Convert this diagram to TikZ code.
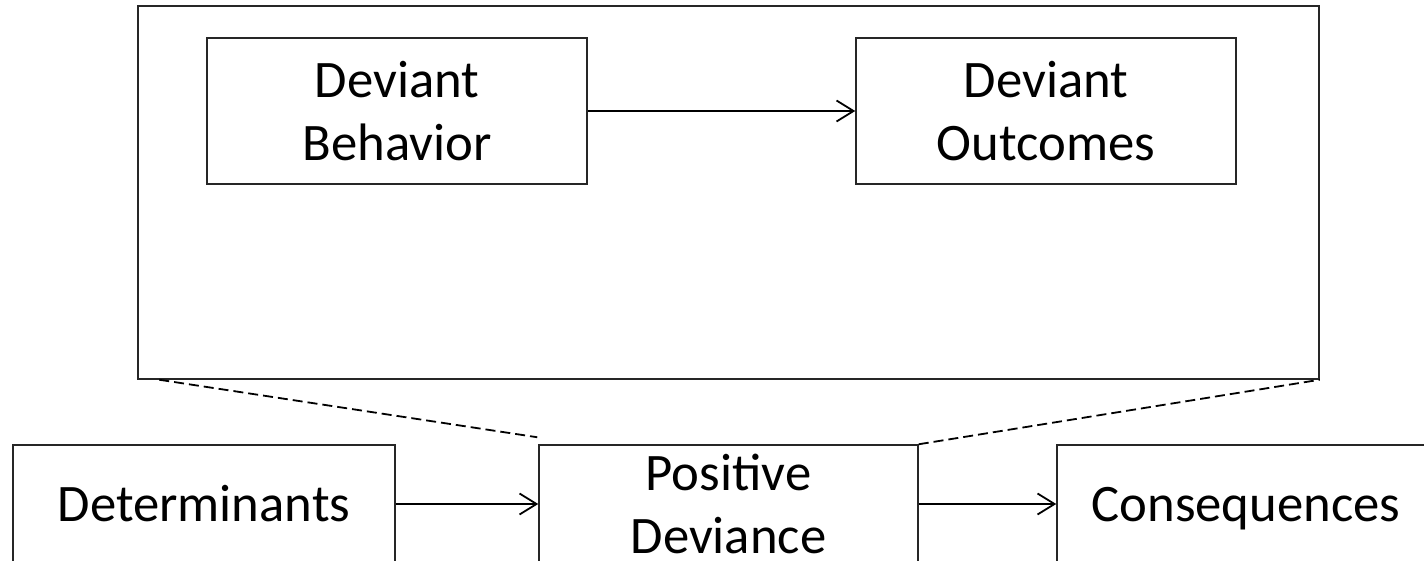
\documentclass[tikz,border=0pt]{standalone}
\usepackage{fontspec}
\setmainfont{Carlito}
\usetikzlibrary{arrows.meta}
\begin{document}
\begin{tikzpicture}[x=1pt,y=-1pt,
  box/.style={draw=black!85, line width=1.5pt, minimum width=380pt, minimum height=146pt, inner sep=0pt, align=center, font=\fontsize{52.7}{63}\selectfont},
  lowbox/.style={box, minimum height=118pt},
  outerbox/.style={draw=black!85, line width=1.5pt, minimum width=1181pt, minimum height=373pt, inner sep=0pt},
  arr/.style={line width=1.8pt, draw=black, -{Straight Barb[length=17pt,width=21pt,line width=1.8pt]}},
  dashline/.style={line width=1.8pt, draw=black, dash pattern=on 10pt off 5pt}
]
\clip (0,0) rectangle (1424,561);
\fill[white] (0,0) rectangle (1424,561);
\node[outerbox] (outer) at (728.5,192.5) {};
\node[box] (db) at (397,111) {Deviant\\Behavior};
\node[box] (do) at (1046,111) {Deviant\\Outcomes};
\draw[arr] (db) -- (do);
\node[lowbox, minimum width=382pt] (det) at (204,504) {Determinants};
\node[lowbox, minimum width=379pt] (pd) at (728.5,504) {Positive\\Deviance};
\node[lowbox, minimum width=378pt, text depth=0pt] (con) at (1246,504) {Consequences};
\draw[arr] (det) -- (pd);
\draw[arr] (pd) -- (con);
\draw[dashline] ([xshift=22pt]outer.south west) -- ([yshift=7pt,xshift=-1pt]pd.north west);
\draw[dashline] (pd.north east) -- (outer.south east);
\end{tikzpicture}
\end{document}
